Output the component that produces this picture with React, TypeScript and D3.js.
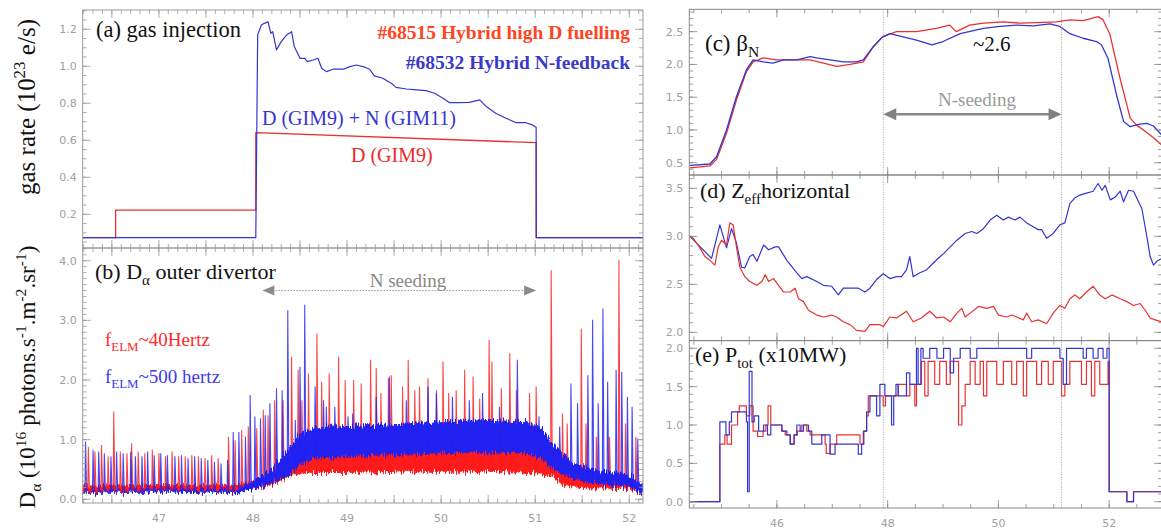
import React, { useEffect, useRef } from 'react';
import * as d3 from 'd3';

const RED = '#e8312f';
const BLUE = '#3535cf';
const DRED = '#ff1a1a';
const DBLUE = '#2020f0';
const TICK = '#a0a0a0';
const SERIF = '"Liberation Serif", "Times New Roman", serif';
const SANS = '"DejaVu Sans", Arial, sans-serif';

// (a) gas injection (1e23 e/s)
const gasRedT = [46.19, 46.54, 46.54, 48.03, 48.03, 51.01, 51.01, 52.15];
const gasRed = [0.074, 0.074, 0.223, 0.223, 0.641, 0.587, 0.074, 0.074];
const gasBlueT = [46.19, 48.03, 48.05, 48.09, 48.12, 48.16, 48.19, 48.21, 48.25, 48.3, 48.36, 48.41, 48.44, 48.5, 48.55, 48.58,
  48.64, 48.69, 48.73, 48.78, 48.85, 48.96, 49.03, 49.1, 49.19, 49.24, 49.29, 49.38, 49.47, 49.52, 49.63, 49.74, 49.84, 49.93,
  50.02, 50.09, 50.18, 50.3, 50.41, 50.48, 50.58, 50.69, 50.8, 50.9, 50.97, 51.01, 51.012, 52.15];
const gasBlue = [0.074, 0.074, 1.17, 1.223, 1.232, 1.24, 1.178, 1.187, 1.088, 1.133, 1.17, 1.187, 1.106, 1.043, 1.043, 1.025,
  1.034, 1.043, 0.989, 0.971, 0.984, 0.984, 0.998, 1.007, 0.995, 0.984, 0.948, 0.935, 0.908, 0.886, 0.877, 0.872, 0.868, 0.854,
  0.827, 0.803, 0.803, 0.805, 0.818, 0.782, 0.746, 0.719, 0.695, 0.695, 0.683, 0.67, 0.074, 0.074];

// (b) D-alpha outer divertor: dense band envelopes and ELM spikes
const bandRedT = [46.19, 47.8, 48.0, 48.2, 48.4, 48.6, 49.0, 49.5, 50.0, 50.5, 51.0, 51.15, 51.3, 51.5, 52.0, 52.15];
const bandRedLo = [0.15, 0.15, 0.18, 0.25, 0.4, 0.45, 0.45, 0.47, 0.47, 0.47, 0.45, 0.4, 0.25, 0.2, 0.18, 0.1];
const bandRedHi = [0.22, 0.24, 0.3, 0.45, 0.65, 0.8, 0.82, 0.85, 0.85, 0.85, 0.82, 0.7, 0.45, 0.32, 0.28, 0.2];
const bandBlueT = [46.19, 47.8, 48.0, 48.2, 48.4, 48.5, 48.7, 49.0, 49.5, 50.0, 50.5, 50.9, 51.05, 51.2, 51.4, 51.6, 52.0, 52.15];
const bandBlueLo = [0.12, 0.12, 0.18, 0.28, 0.42, 0.6, 0.7, 0.72, 0.75, 0.78, 0.8, 0.78, 0.72, 0.5, 0.35, 0.28, 0.22, 0.1];
const bandBlueHi = [0.13, 0.15, 0.28, 0.48, 0.85, 1.1, 1.2, 1.22, 1.25, 1.3, 1.32, 1.3, 1.2, 0.9, 0.6, 0.5, 0.4, 0.22];
const elmRedT = [46.25, 46.32, 46.39, 46.46, 46.52, 46.59, 46.66, 46.71, 46.78, 46.85, 46.93, 47.0, 47.07, 47.14, 47.21, 47.28,
  47.35, 47.42, 47.49, 47.56, 47.63, 47.74, 47.81, 47.88, 47.95, 48.04, 48.11, 48.16, 48.23, 48.32, 48.41, 48.48, 48.52, 48.59,
  48.68, 48.73, 48.81, 48.91, 48.98, 49.07, 49.15, 49.25, 49.31, 49.36, 49.44, 49.47, 49.59, 49.65, 49.72, 49.77, 49.86, 49.95,
  50.02, 50.08, 50.16, 50.25, 50.34, 50.41, 50.51, 50.54, 50.64, 50.73, 50.8, 50.94, 51.01, 51.17, 51.29, 51.34, 51.49, 51.54,
  51.65, 51.79, 51.89, 51.96, 52.07];
const elmRed = [0.88, 0.8, 0.91, 0.72, 1.47, 0.8, 0.77, 0.94, 0.8, 0.77, 0.83, 0.77, 0.72, 0.8, 0.72, 0.72,
  0.74, 0.72, 0.69, 0.74, 0.69, 1.05, 0.99, 1.16, 1.22, 1.19, 1.5, 1.41, 1.66, 1.66, 2.39, 2.17, 1.66, 2.11,
  2.78, 1.97, 2.11, 2.39, 2.0, 2.0, 1.94, 2.34, 2.2, 1.78, 2.03, 2.08, 1.89, 2.34, 1.83, 1.89, 2.03, 1.83,
  2.31, 1.78, 1.83, 2.17, 2.06, 1.69, 2.67, 2.31, 1.86, 2.45, 1.83, 1.78, 1.89, 3.84, 1.44, 1.27, 2.86, 1.27,
  1.05, 1.05, 4.01, 1.27, 1.05];
const elmBlueT = [46.22, 46.3, 46.36, 46.42, 46.49, 46.55, 46.62, 46.7, 46.75, 46.82, 46.88, 46.95, 47.02, 47.09, 47.17, 47.24,
  47.31, 47.38, 47.45, 47.52, 47.59, 47.66, 47.73, 47.79, 47.85, 47.92, 47.97, 48.02, 48.08, 48.13, 48.18, 48.25, 48.31, 48.37,
  48.45, 48.5, 48.55, 48.66, 48.75, 48.78, 48.87, 49.01, 49.06, 49.31, 49.45, 49.63, 49.86, 49.95, 50.12, 50.3, 50.44, 50.62,
  50.81, 51.04, 51.26, 51.38, 51.45, 51.56, 51.61, 51.67, 51.72, 51.77, 51.86, 51.92, 51.98, 52.03, 52.09];
const elmBlue = [0.97, 0.83, 0.8, 0.77, 0.72, 0.8, 0.77, 0.8, 0.72, 0.72, 0.8, 0.74, 0.77, 0.74, 0.72, 0.74,
  0.69, 0.72, 0.69, 0.66, 0.63, 0.6, 0.66, 1.13, 1.13, 1.05, 1.75, 1.39, 1.36, 1.41, 1.61, 1.86, 1.83, 3.17,
  1.33, 2.22, 3.26, 1.89, 1.66, 1.55, 1.55, 1.39, 1.44, 1.72, 2.06, 1.66, 1.89, 1.78, 1.72, 1.66, 1.78, 1.55,
  2.34, 1.39, 1.22, 1.94, 1.61, 2.08, 3.01, 1.61, 3.2, 1.97, 2.17, 2.14, 1.72, 1.55, 1.02];

// (c) beta_N
const betaRedT = [44.43, 44.79, 44.91, 45.09, 45.27, 45.45, 45.57, 45.75, 45.99, 46.36, 46.6, 46.84, 47.08, 47.32, 47.56, 47.74,
  47.92, 48.16, 48.52, 48.88, 49.12, 49.24, 49.48, 49.73, 50.09, 50.39, 50.69, 51.05, 51.29, 51.53, 51.8, 51.89, 52.01, 52.19,
  52.38, 52.5, 52.65, 52.8, 52.95];
const betaRed = [0.42, 0.45, 0.55, 0.95, 1.46, 1.89, 2.04, 2.1, 2.07, 2.07, 2.07, 2.02, 1.97, 2.0, 2.04, 2.27,
  2.43, 2.5, 2.5, 2.55, 2.6, 2.5, 2.6, 2.63, 2.65, 2.63, 2.64, 2.65, 2.68, 2.67, 2.73, 2.68, 2.47, 1.81,
  1.18, 1.07, 0.98, 0.88, 0.77];
const betaBlueT = [44.43, 44.79, 44.91, 45.09, 45.27, 45.45, 45.57, 45.75, 45.93, 46.12, 46.36, 46.6, 46.72, 46.96, 47.2, 47.44,
  47.56, 47.74, 47.89, 48.04, 48.28, 48.52, 48.8, 49.0, 49.31, 49.73, 50.03, 50.33, 50.63, 50.93, 51.11, 51.29, 51.53, 51.77,
  51.86, 51.98, 52.14, 52.26, 52.38, 52.55, 52.68, 52.8, 52.95];
const betaBlue = [0.46, 0.48, 0.59, 1.0, 1.51, 1.92, 2.07, 2.04, 2.02, 2.07, 2.07, 2.12, 2.1, 2.07, 2.04, 2.04,
  2.07, 2.27, 2.41, 2.47, 2.42, 2.37, 2.3, 2.35, 2.47, 2.55, 2.58, 2.6, 2.59, 2.62, 2.58, 2.47, 2.4, 2.35,
  2.3, 2.09, 1.51, 1.13, 1.05, 1.09, 1.1, 1.06, 0.92];

// (d) Zeff horizontal
const zeffRedT = [44.43, 44.49, 44.61, 44.7, 44.79, 44.88, 44.94, 45.0, 45.09, 45.15, 45.21, 45.27, 45.33, 45.42, 45.51, 45.64,
  45.73, 45.79, 45.85, 45.94, 46.03, 46.12, 46.24, 46.33, 46.39, 46.48, 46.57, 46.72, 46.84, 46.99, 47.08, 47.2, 47.32, 47.44,
  47.59, 47.68, 47.86, 47.92, 48.04, 48.16, 48.34, 48.46, 48.61, 48.76, 48.89, 49.01, 49.13, 49.25, 49.34, 49.4, 49.49, 49.64,
  49.79, 49.91, 50.0, 50.15, 50.24, 50.33, 50.45, 50.51, 50.6, 50.72, 50.87, 50.99, 51.11, 51.2, 51.29, 51.38, 51.47, 51.59,
  51.71, 51.83, 51.93, 52.05, 52.2, 52.32, 52.44, 52.56, 52.65, 52.74, 52.83, 52.95];
const zeffRed = [3.0, 2.98, 2.88, 2.79, 2.75, 2.7, 2.89, 2.96, 2.91, 3.14, 3.12, 2.89, 2.68, 2.58, 2.53, 2.49,
  2.53, 2.6, 2.53, 2.56, 2.49, 2.42, 2.42, 2.46, 2.35, 2.32, 2.23, 2.18, 2.16, 2.18, 2.16, 2.11, 2.08, 2.02,
  2.01, 2.08, 2.08, 2.06, 2.16, 2.15, 2.22, 2.11, 2.15, 2.22, 2.15, 2.16, 2.11, 2.2, 2.25, 2.16, 2.2, 2.27,
  2.25, 2.27, 2.18, 2.16, 2.18, 2.16, 2.13, 2.2, 2.11, 2.13, 2.09, 2.2, 2.28, 2.25, 2.35, 2.39, 2.35, 2.42,
  2.48, 2.39, 2.35, 2.39, 2.35, 2.32, 2.28, 2.3, 2.23, 2.15, 2.13, 2.11];
const zeffBlueT = [44.43, 44.82, 44.97, 45.09, 45.18, 45.27, 45.36, 45.42, 45.51, 45.57, 45.64, 45.76, 45.85, 45.97, 46.03, 46.18,
  46.36, 46.45, 46.54, 46.72, 46.84, 46.99, 47.11, 47.2, 47.38, 47.47, 47.59, 47.68, 47.8, 47.92, 48.04, 48.16, 48.25, 48.34,
  48.4, 48.46, 48.58, 48.7, 48.82, 48.95, 49.01, 49.13, 49.25, 49.4, 49.52, 49.61, 49.73, 49.85, 49.97, 50.09, 50.18, 50.3,
  50.39, 50.51, 50.63, 50.72, 50.78, 50.87, 50.99, 51.11, 51.2, 51.29, 51.38, 51.47, 51.59, 51.71, 51.8, 51.87, 51.93, 52.02,
  52.11, 52.2, 52.26, 52.35, 52.44, 52.53, 52.59, 52.68, 52.74, 52.8, 52.86, 52.95];
const zeffBlue = [3.0, 2.77, 3.12, 2.88, 3.08, 2.93, 2.68, 2.67, 2.79, 2.81, 2.74, 2.91, 2.86, 2.89, 2.89, 2.75,
  2.62, 2.56, 2.58, 2.53, 2.49, 2.48, 2.39, 2.46, 2.46, 2.46, 2.42, 2.46, 2.55, 2.61, 2.56, 2.58, 2.58, 2.65,
  2.79, 2.58, 2.62, 2.65, 2.72, 2.79, 2.82, 2.89, 2.96, 3.03, 3.05, 3.03, 3.08, 3.17, 3.22, 3.17, 3.2, 3.17,
  3.2, 3.14, 3.1, 3.07, 3.07, 2.98, 3.03, 3.12, 3.14, 3.34, 3.4, 3.43, 3.45, 3.47, 3.55, 3.48, 3.53, 3.38,
  3.41, 3.47, 3.36, 3.48, 3.47, 3.36, 3.29, 3.0, 2.79, 2.7, 2.74, 2.77];

// (e) total power (x10 MW), step-after
const ptotRedT = [44.43, 44.97, 45.06, 45.1, 45.18, 45.29, 45.32, 45.45, 45.51, 45.57, 45.65, 45.75, 45.8, 45.84, 45.89, 46.09,
  46.15, 46.24, 46.31, 46.37, 46.45, 46.54, 46.6, 46.87, 46.89, 46.96, 47.08, 47.5, 47.56, 47.62, 47.65, 47.92, 47.96, 48.19,
  48.34, 48.4, 48.49, 48.52, 48.61, 48.67, 48.73, 48.85, 48.94, 49.06, 49.13, 49.28, 49.34, 49.4, 49.49, 49.58, 49.67, 49.73,
  49.79, 49.97, 50.09, 50.24, 50.33, 50.45, 50.51, 50.69, 50.78, 50.9, 50.99, 51.14, 51.2, 51.29, 51.5, 51.59, 51.68, 51.74,
  51.83, 51.98, 52.0, 52.32, 52.44, 52.95];
const ptotRed = [0, 0.75, 0.87, 0.75, 1.0, 1.17, 1.25, 1.12, 1.25, 0.92, 0.85, 0.92, 1.0, 1.25, 1.0, 0.92,
  0.87, 0.75, 0.87, 0.92, 1.0, 0.92, 0.87, 0.75, 0.63, 0.75, 0.87, 0.75, 0.92, 1.12, 1.38, 1.25, 1.38, 1.53,
  1.38, 1.53, 1.25, 1.53, 1.83, 1.38, 1.83, 1.53, 1.83, 1.53, 1.83, 1.0, 1.25, 1.53, 1.83, 1.53, 1.83, 1.38,
  1.83, 1.53, 1.83, 1.53, 1.83, 1.38, 1.83, 1.53, 1.83, 1.53, 1.83, 1.38, 1.53, 1.83, 1.53, 1.83, 1.38, 1.83,
  1.53, 1.83, 0.13, 0, 0.13, 0];
const ptotBlueT = [44.43, 44.97, 45.08, 45.14, 45.18, 45.45, 45.47, 45.5, 45.55, 45.59, 45.67, 45.76, 45.83, 45.89, 46.09, 46.18,
  46.24, 46.31, 46.36, 46.42, 46.48, 46.57, 46.63, 46.81, 46.96, 47.05, 47.47, 47.53, 47.57, 47.62, 47.68, 47.8, 47.86, 47.95,
  48.07, 48.11, 48.15, 48.19, 48.34, 48.4, 48.52, 48.55, 48.6, 48.64, 48.76, 48.89, 49.01, 49.13, 49.19, 49.31, 49.49, 49.61,
  50.51, 50.6, 51.11, 51.17, 51.23, 51.53, 51.59, 51.71, 51.8, 51.89, 51.96, 52.0, 52.32, 52.44, 52.95];
const ptotBlue = [0, 1.04, 0.87, 1.04, 1.17, 1.04, 0.13, 1.7, 1.04, 1.12, 0.92, 1.0, 0.87, 1.0, 0.92, 0.87,
  0.75, 0.87, 1.0, 0.92, 1.0, 0.92, 0.75, 0.87, 0.62, 0.75, 0.62, 0.75, 0.92, 1.17, 1.38, 1.12, 1.53, 1.38,
  1.0, 1.38, 1.53, 1.38, 1.68, 1.53, 2.0, 1.53, 2.0, 1.87, 2.0, 1.87, 2.0, 1.68, 1.87, 2.0, 1.87, 2.0,
  1.87, 2.0, 1.87, 1.53, 2.0, 1.87, 2.0, 1.87, 2.0, 1.87, 2.0, 0.13, 0, 0.13, 0];

// N-seeding window (s)
const seedMarks = [47.92, 51.14];
const seedArrowB = [48.1, 51.01];

const leftXLabels = [47, 48, 49, 50, 51, 52];
const rightXLabels = [46, 48, 50, 52];
const gasLabels = [0.2, 0.4, 0.6, 0.8, 1.0, 1.2];
const dalphaLabels = [0, 1, 2, 3, 4];
const betaLabels = [0.5, 1.0, 1.5, 2.0, 2.5];
const zeffLabels = [2.0, 2.5, 3.0, 3.5];
const ptotLabels = [0, 0.5, 1.0, 1.5, 2.0];

type Sc = d3.ScaleLinear<number, number>;
type Sel = d3.Selection<any, unknown, null, undefined>;

const zip = (t: number[], v: number[]) => t.map((d, i) => [d, v[i]] as [number, number]);

const tickVals = (dom: number[], step: number) => {
  const a = Math.ceil(Math.min(dom[0], dom[1]) / step - 1e-6);
  const b = Math.floor(Math.max(dom[0], dom[1]) / step + 1e-6);
  return d3.range(a, b + 1).map(k => +(k * step).toFixed(4));
};

function drawFrame(g: Sel, x: Sc, y: Sc, o: any) {
  const [x0, x1] = x.range();
  const [y0, y1] = y.range();
  const tg = g.append('g').attr('stroke', o.stroke).attr('stroke-width', 0.8);
  const vt = (xv: number, len: number) => {
    tg.append('line').attr('x1', x(xv)).attr('x2', x(xv)).attr('y1', y0).attr('y2', y0 - len);
    tg.append('line').attr('x1', x(xv)).attr('x2', x(xv)).attr('y1', y1).attr('y2', y1 + len);
  };
  const ht = (yv: number, len: number) => {
    tg.append('line').attr('y1', y(yv)).attr('y2', y(yv)).attr('x1', x0).attr('x2', x0 + len);
    tg.append('line').attr('y1', y(yv)).attr('y2', y(yv)).attr('x1', x1).attr('x2', x1 - len);
  };
  tickVals(x.domain(), o.xMinor).forEach(v => vt(v, 4));
  tickVals(x.domain(), o.xMajor).forEach(v => vt(v, 8));
  tickVals(y.domain(), o.yMinor).forEach(v => ht(v, 4));
  (o.yLabels as number[]).forEach(v => ht(v, 8));
  g.append('rect').attr('x', x0).attr('y', y1).attr('width', x1 - x0).attr('height', y0 - y1)
    .attr('fill', 'none').attr('stroke', o.stroke).attr('stroke-width', 1);
  g.append('g').selectAll('text').data(o.yLabels as number[]).join('text')
    .attr('x', x0 - 6).attr('y', d => y(d) + 4).attr('text-anchor', 'end')
    .attr('font-family', SANS).attr('font-size', 11).attr('fill', TICK)
    .text(d => d3.format('.1f')(d));
  if (o.xLabels) {
    g.append('g').selectAll('text').data(o.xLabels as number[]).join('text')
      .attr('x', d => x(d)).attr('y', o.xLabelY).attr('text-anchor', 'middle')
      .attr('font-family', SANS).attr('font-size', 11).attr('fill', TICK)
      .text(d => String(d));
  }
}

// text with sub/superscripts: parts are [string, 0 normal | 1 sup | -1 sub]
function rich(g: Sel, x: number, y: number, parts: [string, number][], size: number, fill: string, extra: any = {}) {
  const t = g.append('text').attr('x', x).attr('y', y).attr('font-family', SERIF)
    .attr('font-size', size).attr('fill', fill);
  Object.keys(extra).forEach(k => t.attr(k, extra[k]));
  let cur = 0;
  parts.forEach(([s, k]) => {
    const target = k === 1 ? -size * 0.4 : k === -1 ? size * 0.28 : 0;
    t.append('tspan').attr('dy', target - cur).attr('font-size', k === 0 ? size : size * 0.68).text(s);
    cur = target;
  });
  return t;
}

function arrowHead(g: Sel, tipX: number, y: number, dir: number, len: number, half: number, fill: string) {
  g.append('path')
    .attr('d', `M${tipX},${y}L${tipX - dir * len},${y - half}L${tipX - dir * len},${y + half}Z`)
    .attr('fill', fill);
}

const App = () => {
  const svgRef = useRef<SVGSVGElement>(null);

  useEffect(() => {
    const svg = d3.select(svgRef.current);
    svg.selectAll('*').remove();

    const xL = d3.scaleLinear().domain([46.19, 52.146]).range([82.7, 643]);
    const yA = d3.scaleLinear().domain([0.018, 1.304]).range([248, 10]);
    const yB = d3.scaleLinear().domain([-0.062, 4.213]).range([503, 248]);
    const xR = d3.scaleLinear().domain([44.418, 52.954]).range([689.3, 1162]);
    const yC = d3.scaleLinear().domain([0.312, 2.842]).range([175, 9.3]);
    const yD = d3.scaleLinear().domain([1.915, 3.639]).range([340.5, 175]);
    const yE = d3.scaleLinear().domain([-0.082, 2.099]).range([508, 340.7]);

    const defs = svg.append('defs');
    // ragged edge for the dense ELM band
    const flt = defs.append('filter').attr('id', 'rough')
      .attr('x', '-2%').attr('y', '-30%').attr('width', '104%').attr('height', '160%');
    flt.append('feTurbulence').attr('type', 'fractalNoise').attr('baseFrequency', '0.9 0.06')
      .attr('numOctaves', 2).attr('seed', 3).attr('result', 'n');
    flt.append('feDisplacementMap').attr('in', 'SourceGraphic').attr('in2', 'n').attr('scale', 12)
      .attr('xChannelSelector', 'B').attr('yChannelSelector', 'R');

    const clip = (id: string, x: Sc, y: Sc) => {
      const [x0, x1] = x.range();
      const [y0, y1] = y.range();
      defs.append('clipPath').attr('id', id).append('rect')
        .attr('x', x0).attr('y', y1).attr('width', x1 - x0).attr('height', y0 - y1);
      return svg.append('g').attr('clip-path', `url(#${id})`);
    };
    const path = (g: Sel, x: Sc, y: Sc, t: number[], v: number[], color: string, w = 1.2, curve: any = d3.curveLinear) => {
      const ln = d3.line<[number, number]>().x(d => x(d[0])).y(d => y(d[1])).curve(curve);
      g.append('path').attr('d', ln(zip(t, v))).attr('fill', 'none').attr('stroke', color)
        .attr('stroke-width', w).attr('stroke-linejoin', 'round');
    };

    // ---------- (a) gas injection ----------
    const gA = clip('clipA', xL, yA);
    path(gA, xL, yA, gasRedT, gasRed, RED, 1.3);
    path(gA, xL, yA, gasBlueT, gasBlue, BLUE, 1.2);
    drawFrame(svg.append('g'), xL, yA, { xMinor: 0.1, xMajor: 0.5, yMinor: 0.05, yLabels: gasLabels, stroke: '#9a9a9a' });

    // ---------- (b) D-alpha ----------
    const gB = clip('clipB', xL, yB);
    const band = (t: number[], lo: number[], hi: number[], color: string) => {
      const ar = d3.area<number>().x((d, i) => xL(t[i])).y0((d, i) => yB(lo[i])).y1((d, i) => yB(hi[i]));
      gB.append('path').attr('d', ar(t)).attr('fill', color).attr('stroke', color).attr('stroke-width', 1.2)
        .attr('filter', 'url(#rough)');
    };
    const spikes = (t: number[], p: number[], baseT: number[], baseLo: number[], color: string) => {
      const base = d3.scaleLinear().domain(baseT).range(baseLo).clamp(true);
      const ln = d3.line<[number, number]>().x(d => xL(d[0])).y(d => yB(d[1]));
      gB.append('g').selectAll('path').data(zip(t, p)).join('path')
        .attr('d', d => ln([[d[0] - 0.006, base(d[0])], [d[0], d[1]], [d[0] + 0.012, base(d[0])]]))
        .attr('fill', color).attr('fill-opacity', 0.35).attr('stroke', color).attr('stroke-width', 1.1)
        .attr('stroke-opacity', 0.8);
    };
    band(bandRedT, bandRedLo, bandRedHi, DRED);
    spikes(elmRedT, elmRed, bandRedT, bandRedLo, DRED);
    band(bandBlueT, bandBlueLo, bandBlueHi, DBLUE);
    spikes(elmBlueT, elmBlue, bandBlueT, bandBlueLo, DBLUE);
    drawFrame(svg.append('g'), xL, yB, {
      xMinor: 0.1, xMajor: 0.5, yMinor: 0.1, yLabels: dalphaLabels, xLabels: leftXLabels, xLabelY: 522, stroke: '#9a9a9a',
    });

    // N seeding arrow in (b)
    const ay = yB(3.5);
    svg.append('line').attr('x1', xL(seedArrowB[0]) + 10).attr('x2', xL(seedArrowB[1]) - 10)
      .attr('y1', ay).attr('y2', ay).attr('stroke', '#9a9a9a').attr('stroke-width', 1).attr('stroke-dasharray', '1.5,1.5');
    arrowHead(svg, xL(seedArrowB[0]), ay, -1, 12, 5, '#8a8a8a');
    arrowHead(svg, xL(seedArrowB[1]), ay, 1, 12, 5, '#8a8a8a');

    // ---------- right panels ----------
    const gC = clip('clipC', xR, yC);
    path(gC, xR, yC, betaRedT, betaRed, RED, 1.3);
    path(gC, xR, yC, betaBlueT, betaBlue, BLUE, 1.3);
    const gD = clip('clipD', xR, yD);
    path(gD, xR, yD, zeffBlueT, zeffBlue, BLUE, 1.2);
    path(gD, xR, yD, zeffRedT, zeffRed, RED, 1.2);
    const gE = clip('clipE', xR, yE);
    path(gE, xR, yE, ptotRedT, ptotRed, RED, 1.2, d3.curveStepAfter);
    path(gE, xR, yE, ptotBlueT, ptotBlue, BLUE, 1.2, d3.curveStepAfter);

    // dotted N-seeding markers
    svg.append('g').selectAll('line').data(seedMarks).join('line')
      .attr('x1', d => xR(d)).attr('x2', d => xR(d)).attr('y1', yC.range()[1]).attr('y2', yE.range()[0])
      .attr('stroke', '#8a8a8a').attr('stroke-width', 0.8).attr('stroke-dasharray', '1,1.5');

    drawFrame(svg.append('g'), xR, yC, { xMinor: 0.5, xMajor: 2, yMinor: 0.1, yLabels: betaLabels, stroke: '#888' });
    drawFrame(svg.append('g'), xR, yD, { xMinor: 0.5, xMajor: 2, yMinor: 0.1, yLabels: zeffLabels, stroke: '#888' });
    drawFrame(svg.append('g'), xR, yE, {
      xMinor: 0.5, xMajor: 2, yMinor: 0.1, yLabels: ptotLabels, xLabels: rightXLabels, xLabelY: 527, stroke: '#888',
    });

    // N-seeding arrow in (c)
    const cy = yC(1.24);
    svg.append('line').attr('x1', xR(seedMarks[0]) + 10).attr('x2', xR(seedMarks[1]) - 10)
      .attr('y1', cy).attr('y2', cy).attr('stroke', '#888').attr('stroke-width', 2.4);
    arrowHead(svg, xR(seedMarks[0]), cy, -1, 13, 6, '#808080');
    arrowHead(svg, xR(seedMarks[1]), cy, 1, 13, 6, '#808080');

    // ---------- texts ----------
    rich(svg, 96, 37, [['(a) gas injection', 0]], 22.5, '#111');
    svg.append('text').attr('x', 630).attr('y', 39).attr('text-anchor', 'end').attr('font-family', SERIF)
      .attr('font-weight', 'bold').attr('font-size', 19.5).attr('fill', '#ff4422').text('#68515 Hybrid high D fuelling');
    svg.append('text').attr('x', 630).attr('y', 69).attr('text-anchor', 'end').attr('font-family', SERIF)
      .attr('font-weight', 'bold').attr('font-size', 19.5).attr('fill', '#3a3ac8').text('#68532 Hybrid N-feedback');
    rich(svg, 262, 125, [['D (GIM9) + N (GIM11)', 0]], 20, BLUE);
    rich(svg, 351, 162, [['D (GIM9)', 0]], 20, '#ee2a2a');
    rich(svg, 95, 279, [['(b) D', 0], ['α', -1], [' outer divertor', 0]], 22, '#111');
    svg.append('text').attr('x', 408).attr('y', 287).attr('text-anchor', 'middle').attr('font-family', SERIF)
      .attr('font-size', 19).attr('fill', '#888').text('N seeding');
    rich(svg, 105, 346, [['f', 0], ['ELM', -1], ['~40Hertz', 0]], 19, '#ff2a2a');
    rich(svg, 105, 383, [['f', 0], ['ELM', -1], ['~500 hertz', 0]], 19, '#3a3aee');

    rich(svg, 0, 0, [['gas rate (10', 0], ['23', 1], [' e/s)', 0]], 25, '#111',
      { 'text-anchor': 'middle', transform: 'translate(35,107) rotate(-90)' });
    rich(svg, 0, 0, [['D', 0], ['α', -1], [' (10', 0], ['16', 1], [' photons.s', 0], ['-1', 1], ['.m', 0], ['-2', 1],
      ['.sr', 0], ['-1', 1], [')', 0]], 23, '#111',
      { 'text-anchor': 'middle', transform: 'translate(35,377) rotate(-90)' });

    rich(svg, 705, 51, [['(c) β', 0], ['N', -1]], 23, '#111');
    rich(svg, 973, 51, [['~2.6', 0]], 21, '#111');
    svg.append('text').attr('x', 977).attr('y', 106).attr('text-anchor', 'middle').attr('font-family', SERIF)
      .attr('font-size', 19).attr('fill', '#999').text('N-seeding');
    rich(svg, 700, 198, [['(d) Z', 0], ['eff', -1], ['horizontal', 0]], 22, '#111');
    rich(svg, 695, 362, [['(e) P', 0], ['tot', -1], [' (x10MW)', 0]], 22, '#111');
  }, []);

  return (
    <svg ref={svgRef} width={1161} height={530}
      style={{ position: 'absolute', left: 0, top: 0, background: '#fff' }} />
  );
};

export default App;
